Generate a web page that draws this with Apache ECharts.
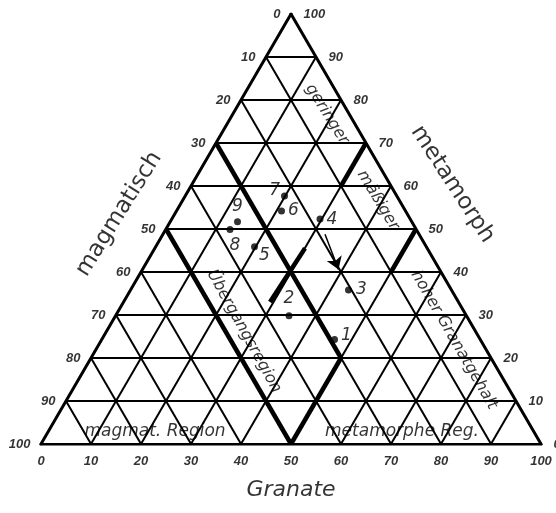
<!DOCTYPE html>
<html>
<head>
<meta charset="utf-8">
<script src="https://cdn.jsdelivr.net/npm/echarts@6/dist/echarts.min.js"></script>
<style>
  html, body { margin: 0; padding: 0; background: #fff; }
  #main { width: 556px; height: 513px; }
</style>
</head>
<body>
<div id="main"></div>
<script>
(function() {

    // Gitterteilung (Prozent)
    var ticks = [0, 10, 20, 30, 40, 50, 60, 70, 80, 90, 100];
    // Beschriftungen der Seiten, von oben nach unten bzw. links nach rechts
    var leftLabels = ['0', '10', '20', '30', '40', '50', '60', '70', '80', '90', '100'];
    var rightLabels = ['100', '90', '80', '70', '60', '50', '40', '30', '20', '10', '0'];
    var bottomLabels = ['0', '10', '20', '30', '40', '50', '60', '70', '80', '90', '100'];

    // Proben: Granate (x) und metamorph (Hoehe)
    var sampleNames = ['1', '2', '3', '4', '5', '6', '7', '8', '9'];
    var sampleGranate = [58.7, 49.6, 61.5, 55.8, 42.7, 48.1, 48.7, 37.8, 39.3];
    var sampleMetamorph = [24.3, 29.8, 35.8, 52.3, 45.9, 54.2, 57.7, 49.9, 51.7];

    // Grenzen der Regionen (dicke Linien)
    var boundaryStart = [[25, 50], [35, 70], [50, 0], [60, 60], [70, 40], [45.8, 33]];
    var boundaryEnd = [[50, 0], [60, 20], [60, 20], [65, 70], [75, 50], [52.8, 45.5]];

    // Pfeil von 4 nach 3
    var arrowStart = [56.8, 48.8];
    var arrowEnd = [59.5, 40.6];

    var FONT = 'DejaVu Sans';
    var TICKFONT = 'Liberation Sans';

    // Dreiecksgitter aus der Teilung
    var gridLines = [];
    var outline = [];
    ticks.forEach(function(t) {
        var h = t;
        if (t === 0 || t === 100) {
            return;
        }
        // waagerecht
        gridLines.push({coords: [[h / 2, h], [100 - h / 2, h]]});
        // parallel zur linken Seite, vom Fuss t nach rechts oben
        gridLines.push({coords: [[t, 0], [t + (100 - t) / 2, 100 - t]]});
        // parallel zur rechten Seite, vom Fuss t nach links oben
        gridLines.push({coords: [[t, 0], [t / 2, t]]});
    });
    outline.push({coords: [[0, 0], [100, 0]]});
    outline.push({coords: [[0, 0], [50, 100]]});
    outline.push({coords: [[100, 0], [50, 100]]});

    var boundaries = [];
    for (var i = 0; i < boundaryStart.length; i++) {
        boundaries.push({coords: [boundaryStart[i], boundaryEnd[i]]});
    }

    // Seitenbeschriftungen
    var leftTicks = [], rightTicks = [], bottomTicks = [];
    ticks.forEach(function(t, k) {
        var h = 100 - t;
        leftTicks.push({value: [h / 2, h], name: leftLabels[k]});
        rightTicks.push({value: [100 - h / 2, h], name: rightLabels[k]});
        bottomTicks.push({value: [t, 0], name: bottomLabels[k]});
    });

    var labelPos = {
        '1': {position: 'right', distance: 3, offset: [0, -4]},
        '2': {position: 'top', distance: 5},
        '3': {position: 'right', distance: 4},
        '4': {position: 'right', distance: 3},
        '5': {position: 'right', distance: 1, offset: [0, 9]},
        '6': {position: 'right', distance: 3},
        '7': {position: 'left', distance: 1, offset: [0, -5]},
        '8': {position: 'bottom', distance: 4, offset: [5, 0]},
        '9': {position: 'top', distance: 3}
    };
    var samples = [];
    for (var j = 0; j < sampleNames.length; j++) {
        var p = labelPos[sampleNames[j]];
        samples.push({
            value: [sampleGranate[j], sampleMetamorph[j]],
            name: sampleNames[j],
            label: {position: p.position, distance: p.distance, offset: p.offset || [0, 0]}
        });
    }

    // freie Texte im Diagramm
    var notes = [
        {value: [15.6, 53.5], name: 'magmatisch', rot: 58, size: 23, style: 'normal'},
        {value: [82.3, 60.4], name: 'metamorph', rot: -57, size: 23, style: 'normal'},
        {value: [50, -10.7], name: 'Granate', rot: 0, size: 22, style: 'italic'},
        {value: [57.2, 76.7], name: 'geringer', rot: -58, size: 16, style: 'italic'},
        {value: [67.4, 56.7], name: 'mäßiger', rot: -59, size: 16, style: 'italic'},
        {value: [82.6, 24.2], name: 'hoher Granatgehalt', rot: -60, size: 16, style: 'italic'},
        {value: [40.6, 26.2], name: 'Übergangsregion', rot: -61, size: 16, style: 'italic'},
        {value: [22.8, 2.8], name: 'magmat. Region', rot: 0, size: 17, style: 'italic'},
        {value: [72.2, 2.8], name: 'metamorphe Reg.', rot: 0, size: 17, style: 'italic'}
    ];
    notes = notes.map(function(n) {
        return {
            value: n.value,
            name: n.name,
            label: {rotate: n.rot, fontSize: n.size, fontStyle: n.style}
        };
    });

    function tickSeries(data, pos, dist) {
        return {
            type: 'scatter',
            data: data,
            symbolSize: 1,
            clip: false,
            silent: true,
            itemStyle: {color: 'rgba(0,0,0,0)'},
            label: {
                show: true,
                position: pos,
                distance: dist,
                formatter: '{b}',
                color: '#000',
                fontFamily: TICKFONT,
                fontWeight: 'bold',
                fontStyle: 'italic',
                fontSize: 13
            }
        };
    }

    var myChart = echarts.init(document.getElementById('main'), null, {renderer: 'canvas'});
    var option = {
        animation: false,
        backgroundColor: '#fff',
        grid: {left: 41, top: 14, width: 500, height: 430},
        xAxis: {type: 'value', min: 0, max: 100, show: false},
        yAxis: {type: 'value', min: 0, max: 100, show: false},
        series: [
            {
                type: 'lines',
                coordinateSystem: 'cartesian2d',
                data: gridLines,
                silent: true,
                lineStyle: {color: '#000', width: 2, opacity: 1}
            },
            {
                type: 'lines',
                coordinateSystem: 'cartesian2d',
                data: outline,
                silent: true,
                lineStyle: {color: '#000', width: 3, opacity: 1, cap: 'round'}
            },
            {
                type: 'lines',
                coordinateSystem: 'cartesian2d',
                data: boundaries,
                silent: true,
                lineStyle: {color: '#000', width: 4.5, opacity: 1}
            },
            {
                type: 'lines',
                coordinateSystem: 'cartesian2d',
                data: [{coords: [arrowStart, arrowEnd]}],
                silent: true,
                symbol: ['none', 'arrow'],
                symbolSize: [6, 12],
                lineStyle: {color: '#000', width: 1.5, opacity: 1}
            },
            tickSeries(leftTicks, 'left', 10),
            tickSeries(rightTicks, 'right', 12),
            tickSeries(bottomTicks, 'bottom', 10),
            {
                type: 'scatter',
                data: samples,
                symbolSize: 7,
                clip: false,
                itemStyle: {color: '#000'},
                label: {
                    show: true,
                    formatter: '{b}',
                    color: '#000',
                    fontFamily: FONT,
                    fontStyle: 'italic',
                    fontSize: 17
                }
            },
            {
                type: 'scatter',
                data: notes,
                symbolSize: 1,
                clip: false,
                silent: true,
                itemStyle: {color: 'rgba(0,0,0,0)'},
                label: {
                    show: true,
                    position: 'inside',
                    align: 'center',
                    verticalAlign: 'middle',
                    formatter: '{b}',
                    color: '#000',
                    fontFamily: FONT
                }
            }
        ]
    };
    myChart.setOption(option);

})();
</script>
</body>
</html>
